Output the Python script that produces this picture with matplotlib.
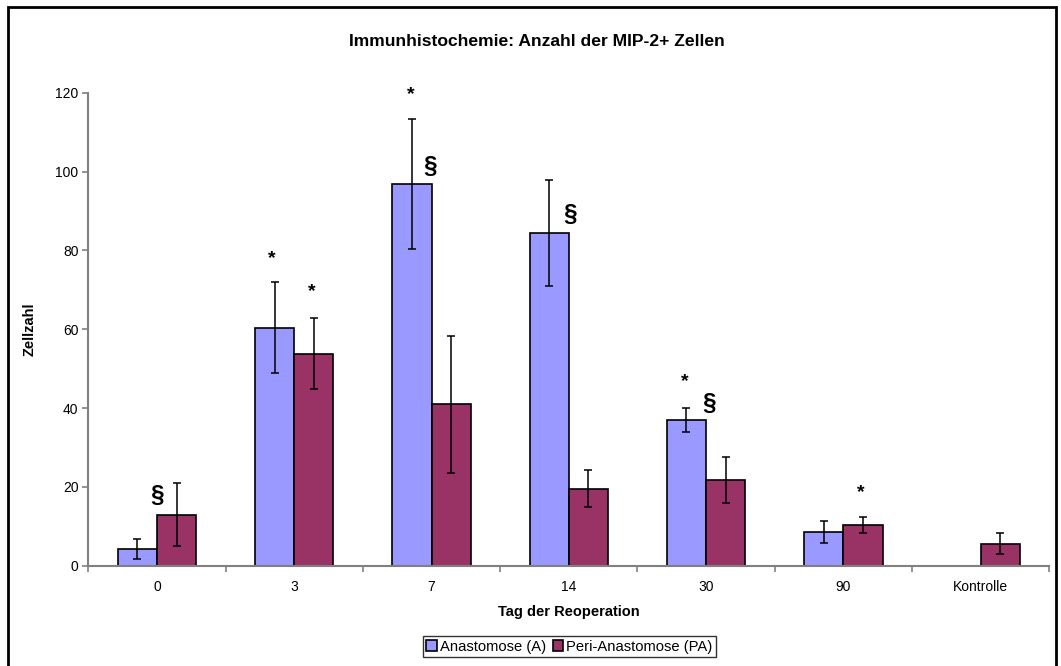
import numpy as np
import matplotlib.pyplot as plt
from matplotlib.patches import Rectangle

plt.rcParams['font.family'] = ['Liberation Sans', 'DejaVu Sans']

# Tag der Reoperation
tage = ['0', '3', '7', '14', '30', '90', 'Kontrolle']

# Mittelwerte und Fehler (Zellzahl)
anastomose = [4.2, 60.4, 96.8, 84.4, 37.0, 8.5, np.nan]
anastomose_err = [2.5, 11.6, 16.5, 13.4, 3.1, 2.8, np.nan]
peri = [12.9, 53.8, 40.9, 19.5, 21.8, 10.3, 5.6]
peri_err = [8.0, 9.0, 17.5, 4.7, 5.8, 2.1, 2.7]

# Signifikanzzeichen: (x, y, Zeichen)
zeichen = [
    (0.0, 17.9, '§'),
    (0.84, 78.0, '*'),
    (1.13, 69.5, '*'),
    (1.85, 119.4, '*'),
    (1.99, 101.2, '§'),
    (3.01, 89.0, '§'),
    (3.845, 46.7, '*'),
    (4.02, 41.2, '§'),
    (5.13, 18.6, '*'),
]

fig = plt.figure(figsize=(10.61, 6.66), dpi=100)
ax = fig.add_axes([88.3 / 1061, 1 - 565.7 / 666, 961 / 1061, 473 / 666])

x = np.arange(len(tage))
w = 1 / 3.5
ax.bar(x - w / 2, anastomose, w, color='#9999FF', edgecolor='black', linewidth=1.2,
       label='Anastomose (A)', zorder=2)
ax.bar(x + w / 2, peri, w, color='#993366', edgecolor='black', linewidth=1.2,
       label='Peri-Anastomose (PA)', zorder=2)
ax.errorbar(x - w / 2, anastomose, yerr=anastomose_err, fmt='none', ecolor='black',
            elinewidth=1.1, capsize=2.8, capthick=1.1, zorder=3)
ax.errorbar(x + w / 2, peri, yerr=peri_err, fmt='none', ecolor='black',
            elinewidth=1.1, capsize=2.8, capthick=1.1, zorder=3)

for zx, zy, z in zeichen:
    if z == '*':
        ax.text(zx, zy, z, ha='center', va='center', fontsize=14, fontweight='bold')
    else:
        ax.text(zx, zy, z, ha='center', va='center', fontsize=17.5, fontweight='bold')

ax.set_xlim(-0.5, len(tage) - 0.5)
ax.set_ylim(0, 120)
ax.set_yticks(range(0, 121, 20))
ax.set_xticks(np.arange(-0.5, len(tage), 1.0))
ax.set_xticklabels([])
ax.set_xticks(x, minor=True)
ax.set_xticklabels(tage, minor=True)
ax.tick_params(axis='x', which='minor', length=0, pad=10, labelsize=10)
ax.tick_params(axis='x', which='major', length=4, width=1.2, color='#808080')
ax.tick_params(axis='y', length=4, width=1.2, color='#808080', labelsize=10, pad=3)

for s in ['top', 'right']:
    ax.spines[s].set_visible(False)
for s in ['left', 'bottom']:
    ax.spines[s].set_color('#808080')
    ax.spines[s].set_linewidth(1.5)

ax.set_xlabel('Tag der Reoperation', fontsize=10.5, fontweight='bold', labelpad=8)
ax.set_ylabel('Zellzahl', fontsize=10.5, fontweight='bold')
ax.yaxis.set_label_coords(-0.054, 0.5)

fig.text(537 / 1061, 1 - 41 / 666, 'Immunhistochemie: Anzahl der MIP-2+ Zellen',
         ha='center', va='center', fontsize=12.6, fontweight='bold')

leg = fig.legend(loc='center', bbox_to_anchor=(569.5 / 1061, 1 - 646.5 / 666), ncol=2,
                 fontsize=10.6, frameon=True, fancybox=False, handlelength=0.7,
                 handleheight=0.7, handletextpad=0.2, columnspacing=0.5,
                 borderpad=0.25, borderaxespad=0)
leg.get_frame().set_edgecolor('black')
leg.get_frame().set_linewidth(1.0)

# Rahmen um das Diagramm
fig.patches.append(Rectangle((8.3 / 1061, -0.02), (1056 - 8.3) / 1061, 1.02 - 7 / 666,
                             transform=fig.transFigure, fill=False,
                             edgecolor='black', linewidth=2))

fig.savefig('out.png', dpi=100)
